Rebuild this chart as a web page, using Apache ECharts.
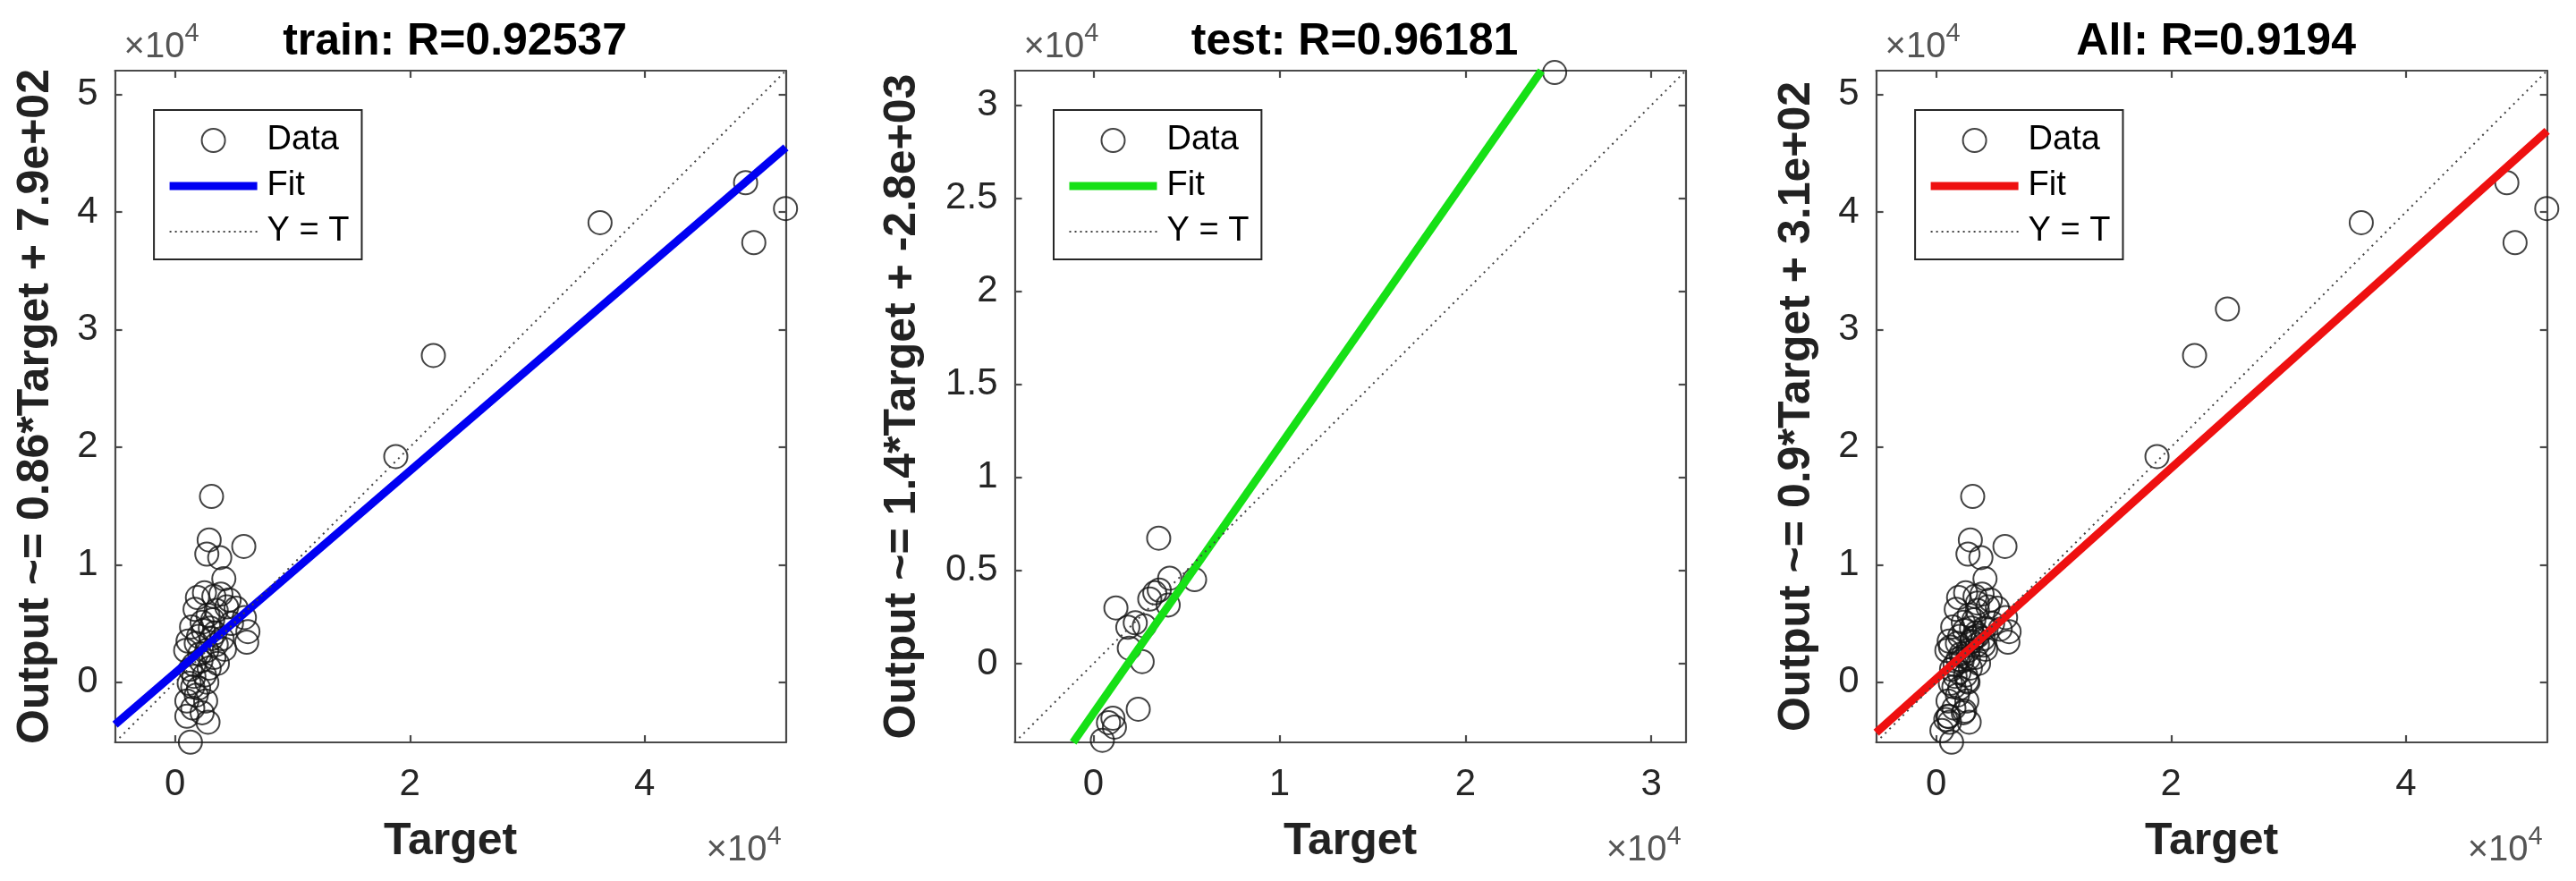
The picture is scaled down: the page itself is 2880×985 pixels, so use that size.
<!DOCTYPE html>
<html>
<head>
<meta charset="utf-8">
<script src="https://cdn.jsdelivr.net/npm/echarts@6/dist/echarts.min.js"></script>
<style>
html,body{margin:0;padding:0;background:#fff;}
#chart{width:2880px;height:985px;}
</style>
</head>
<body>
<div id="chart"></div>
<script>
// ---------------- data ----------------
const trainTarget = [48600, 52000, 49300, 36200, 22000, 18800, 3100, 2900, 5850, 2700, 3800, 4150,
  1900, 3300, 4600, 2500, 3900, 1700, 2800, 3500, 4400, 5900, 6200, 6100, 1400, 2300, 3000, 4000,
  3400, 2000, 900, 2700, 4200, 3500, 1800, 1300, 2900, 2200, 3600, 1600, 2500, 1200, 2700, 2000,
  1000, 2600, 1800, 1000, 2800, 1500, 1300, 3300, 4800, 2100, 1100, 3100, 2400, 1500, 2300, 3200,
  1600, 5200];
const trainOutput = [42500, 40300, 37400, 39100, 27800, 19200, 15800, 12100, 11550, 10900, 10600, 8800,
  7200, 7300, 7000, 7600, 7500, 6200, 5700, 6100, 6400, 5500, 4300, 3400, 4700, 5100, 4600, 3700,
  4200, 3900, 2700, 2700, 2800, 3200, 3300, 1100, 1200, 1800, 1600, 500, 600, -100, 0, -500,
  -1600, -1600, -1100, -2900, -3400, -2200, -5100, 2100, 5000, 2400, 3500, 3700, 4400, -400, -2600, 5300,
  1500, 6300];
const testTarget = [24800, 3510, 4100, 5440, 3540, 3030, 4020, 1210, 2250, 1850, 2740, 1930, 2620,
  2410, 1050, 1130, 810, 480, 3300];
const testOutput = [31750, 6740, 4590, 4510, 3950, 3470, 3150, 2990, 2190, 1950, 2030, 830, 110,
  -2450, -2930, -3410, -3170, -4120, 3800];

const titles = ['train: R=0.92537', 'test: R=0.96181', 'All: R=0.9194'];
const yNames = ['Output ~= 0.86*Target + 7.9e+02', 'Output ~= 1.4*Target + -2.8e+03', 'Output ~= 0.9*Target + 3.1e+02'];
const xName = 'Target';
const legendNames = ['Data', 'Fit', 'Y = T'];

const trainLimits = [-5120, 52030];
const testLimits = [-4230, 31850];
const allLimits = [-5120, 52030];

const fitTrain = [[-5120, -3610], [52030, 45500]];
const fitTest = [[-1090, -4230], [24090, 31850]];
const fitAll = [[-5120, -4300], [52030, 46900]];

const identTrain = [[-5120, -5120], [52030, 52030]];
const identTest = [[-4230, -4230], [31850, 31850]];
const identAll = [[-5120, -5120], [52030, 52030]];

const ticksTrainX = [0, 20000, 40000];
const ticksTrainY = [0, 10000, 20000, 30000, 40000, 50000];
const ticksTestX = [0, 10000, 20000, 30000];
const ticksTestY = [0, 5000, 10000, 15000, 20000, 25000, 30000];

// ---------------- build ----------------
const FONT = "'Liberation Sans', Arial, Helvetica, sans-serif";
const AX = '#4a4a4a';
const grids = [
  {left: 128.6, top: 79, width: 750, height: 751},
  {left: 1134.5, top: 79, width: 750.2, height: 751},
  {left: 2097.6, top: 79, width: 750.1, height: 751}
];
const yNameGaps = [63, 100, 63];
const fitColors = ['#0000f2', '#16e016', '#ee1010'];
const keys = ['train', 'test', 'all'];

function zip(a, b) { return a.map((v, i) => [v, b[i]]); }
const trainPts = zip(trainTarget, trainOutput);
const testPts = zip(testTarget, testOutput);
const allPts = trainPts.concat(testPts);

const panels = [
  {pts: trainPts, lim: trainLimits, fit: fitTrain, ident: identTrain, tx: ticksTrainX, ty: ticksTrainY},
  {pts: testPts, lim: testLimits, fit: fitTest, ident: identTest, tx: ticksTestX, ty: ticksTestY},
  {pts: allPts, lim: allLimits, fit: fitAll, ident: identAll, tx: ticksTrainX, ty: ticksTrainY}
];

const fmt = v => String(+(v / 1e4).toFixed(2));
const lineStyle = {color: AX, width: 2.2};

const option = {
  animation: false,
  backgroundColor: '#fff',
  textStyle: {fontFamily: FONT},
  grid: [], xAxis: [], yAxis: [], series: [], title: [], legend: []
};

panels.forEach((p, i) => {
  const g = grids[i];
  option.grid.push({left: g.left, top: g.top, width: g.width, height: g.height, containLabel: false, outerBoundsMode: 'none'});
  const base = (pos, ticks) => ({
    gridIndex: i, type: 'value', min: p.lim[0], max: p.lim[1], position: pos,
    axisLine: {show: true, onZero: false, lineStyle},
    axisTick: {show: true, inside: true, length: 8, lineStyle, customValues: ticks},
    splitLine: {show: false},
    axisLabel: {show: false, customValues: ticks}
  });
  const xb = base('bottom', p.tx);
  xb.axisLabel = {show: true, customValues: p.tx, formatter: fmt, fontSize: 42, margin: 26, color: '#262626', fontFamily: FONT};
  xb.name = xName; xb.nameLocation = 'middle'; xb.nameGap = 86;
  xb.nameTextStyle = {fontSize: 50, fontWeight: 'bold', color: '#222', fontFamily: FONT};
  const xt = base('top', p.tx);
  const yl = base('left', p.ty);
  yl.axisLabel = {show: true, customValues: p.ty, formatter: fmt, fontSize: 42, margin: 19, color: '#262626', fontFamily: FONT};
  yl.name = yNames[i]; yl.nameLocation = 'middle'; yl.nameGap = yNameGaps[i];
  yl.nameTextStyle = {fontSize: 50, fontWeight: 'bold', color: '#222', fontFamily: FONT};
  const yr = base('right', p.ty);
  option.xAxis.push(xb, xt);
  option.yAxis.push(yl, yr);

  const k = keys[i];
  option.series.push({
    name: k + '|Data', type: 'scatter', xAxisIndex: 2 * i, yAxisIndex: 2 * i,
    data: p.pts, symbol: 'circle', symbolSize: 26, clip: false, silent: true,
    itemStyle: {color: 'rgba(0,0,0,0)', borderColor: '#141414', borderWidth: 2},
    emphasis: {disabled: true}, z: 2
  });
  option.series.push({
    name: k + '|Fit', type: 'line', xAxisIndex: 2 * i, yAxisIndex: 2 * i,
    data: p.fit, symbol: 'none', clip: true, silent: true,
    lineStyle: {color: fitColors[i], width: 9}, itemStyle: {color: fitColors[i]}, z: 3
  });
  option.series.push({
    name: k + '|Y = T', type: 'line', xAxisIndex: 2 * i, yAxisIndex: 2 * i,
    data: p.ident, symbol: 'none', clip: true, silent: true,
    lineStyle: {color: '#444', width: 2, type: [2, 5]}, itemStyle: {color: '#444'}, z: 4
  });

  option.title.push({
    text: titles[i], left: g.left + g.width / 2, textAlign: 'center', top: 17,
    textStyle: {fontSize: 50, fontWeight: 'bold', color: '#000', fontFamily: FONT}
  });
  const rich = {
    a: {fontSize: 40, fontWeight: 'normal', color: '#555', fontFamily: FONT, verticalAlign: 'bottom', lineHeight: 50},
    b: {fontSize: 29, fontWeight: 'normal', color: '#555', fontFamily: FONT, verticalAlign: 'top', lineHeight: 50}
  };
  option.title.push({text: '{a|×10}{b|4}', left: g.left + 5, top: 18, textStyle: {fontWeight: 'normal', rich}});
  option.title.push({text: '{a|×10}{b|4}', right: 2880 - (g.left + g.width), top: 916, textStyle: {fontWeight: 'normal', rich}});

  option.legend.push({
    orient: 'vertical', left: g.left + 43.5, top: g.top + 44,
    data: legendNames.map((n, j) => (j === 0 ? {name: k + '|' + n}
      : {name: k + '|' + n, itemStyle: {opacity: 0},
         lineStyle: j === 1 ? {width: 9, color: fitColors[i]} : {width: 2, color: '#444', type: [2, 4]}})),
    formatter: n => n.split('|')[1],
    itemWidth: 98, itemHeight: 26, itemGap: 13,
    padding: [15, 14, 12, 13],
    borderColor: '#262626', borderWidth: 2, backgroundColor: '#fff',
    selectedMode: false, z: 10,
    textStyle: {fontSize: 38, color: '#000', fontFamily: FONT, padding: [0, 0, 0, 6]}
  });
});

const chart = echarts.init(document.getElementById('chart'), null, {renderer: 'canvas'});
chart.setOption(option);
</script>
</body>
</html>
